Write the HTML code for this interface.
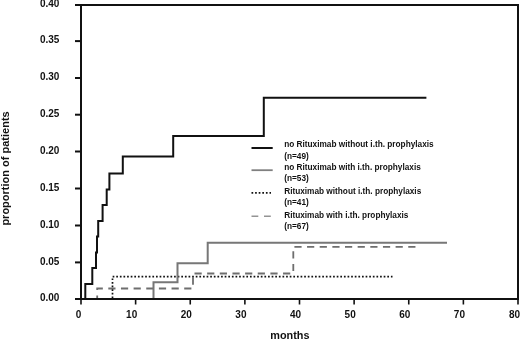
<!DOCTYPE html>
<html><head><meta charset="utf-8"><style>
html,body{margin:0;padding:0;background:#fff;}
body{width:520px;height:339px;overflow:hidden;}
svg{display:block;will-change:opacity;opacity:0.999;}
text{font-family:"Liberation Sans",sans-serif;font-weight:bold;fill:#111;}
</style></head><body>
<svg width="520" height="339" viewBox="0 0 520 339">

<text x="59.4" y="7.30" font-size="10" text-anchor="end">0.40</text>
<text x="59.4" y="43.40" font-size="10" text-anchor="end">0.35</text>
<text x="59.4" y="80.30" font-size="10" text-anchor="end">0.30</text>
<text x="59.4" y="117.00" font-size="10" text-anchor="end">0.25</text>
<text x="59.4" y="153.80" font-size="10" text-anchor="end">0.20</text>
<text x="59.4" y="190.80" font-size="10" text-anchor="end">0.15</text>
<text x="59.4" y="227.80" font-size="10" text-anchor="end">0.10</text>
<text x="59.4" y="264.70" font-size="10" text-anchor="end">0.05</text>
<text x="59.4" y="301.30" font-size="10" text-anchor="end">0.00</text>
<text x="81.40" y="318" font-size="10" text-anchor="end">0</text>
<text x="137.22" y="318" font-size="10" text-anchor="end">10</text>
<text x="191.85" y="318" font-size="10" text-anchor="end">20</text>
<text x="246.47" y="318" font-size="10" text-anchor="end">30</text>
<text x="301.10" y="318" font-size="10" text-anchor="end">40</text>
<text x="355.73" y="318" font-size="10" text-anchor="end">50</text>
<text x="410.35" y="318" font-size="10" text-anchor="end">60</text>
<text x="464.98" y="318" font-size="10" text-anchor="end">70</text>
<text x="520.20" y="318" font-size="10" text-anchor="end">80</text>
<text x="270.3" y="339.2" font-size="10.85">months</text>
<text transform="translate(8.8,225.6) rotate(-90)" font-size="11">proportion of patients</text>
<path d="M81,299 L97.2,299 L97.2,288.5 L193,288.5 L193,273.5 L293.3,273.5 L293.3,246.9 L416,246.9" fill="none" stroke="#6e6e6e" stroke-width="1.8" stroke-dasharray="7.2 5.45" stroke-dashoffset="0.15"/>
<path d="M112.5,299 L112.5,276.6 L392.5,276.6" fill="none" stroke="#111" stroke-width="1.7" stroke-dasharray="1.7 1.914" stroke-dashoffset="-0.85"/>
<path d="M81,299 L153.5,299 L153.5,282.3 L177.5,282.3 L177.5,263.3 L207.7,263.3 L207.7,242.8 L447,242.8" fill="none" stroke="#777" stroke-width="2"/>
<path d="M81,299 L85.3,299 L85.3,284 L92.3,284 L92.3,268 L96,268 L96,252.5 L97,252.5 L97,236.5 L98.2,236.5 L98.2,221 L102.6,221 L102.6,205 L106.7,205 L106.7,189.5 L109.4,189.5 L109.4,173.6 L122.8,173.6 L122.8,156.4 L173.2,156.4 L173.2,136 L263.8,136 L263.8,97.8 L426.4,97.8" fill="none" stroke="#111" stroke-width="2"/>
<rect x="81" y="5" width="437" height="294" fill="none" stroke="#111" stroke-width="2"/>
<line x1="75" y1="5.00" x2="81" y2="5.00" stroke="#111" stroke-width="2"/>
<line x1="75" y1="41.10" x2="81" y2="41.10" stroke="#111" stroke-width="2"/>
<line x1="75" y1="78.00" x2="81" y2="78.00" stroke="#111" stroke-width="2"/>
<line x1="75" y1="114.70" x2="81" y2="114.70" stroke="#111" stroke-width="2"/>
<line x1="75" y1="151.50" x2="81" y2="151.50" stroke="#111" stroke-width="2"/>
<line x1="75" y1="188.50" x2="81" y2="188.50" stroke="#111" stroke-width="2"/>
<line x1="75" y1="225.50" x2="81" y2="225.50" stroke="#111" stroke-width="2"/>
<line x1="75" y1="262.40" x2="81" y2="262.40" stroke="#111" stroke-width="2"/>
<line x1="75" y1="299.00" x2="81" y2="299.00" stroke="#111" stroke-width="2"/>
<line x1="81.00" y1="299" x2="81.00" y2="304.5" stroke="#111" stroke-width="1.6"/>
<line x1="135.62" y1="299" x2="135.62" y2="304.5" stroke="#111" stroke-width="1.6"/>
<line x1="190.25" y1="299" x2="190.25" y2="304.5" stroke="#111" stroke-width="1.6"/>
<line x1="244.88" y1="299" x2="244.88" y2="304.5" stroke="#111" stroke-width="1.6"/>
<line x1="299.50" y1="299" x2="299.50" y2="304.5" stroke="#111" stroke-width="1.6"/>
<line x1="354.12" y1="299" x2="354.12" y2="304.5" stroke="#111" stroke-width="1.6"/>
<line x1="408.75" y1="299" x2="408.75" y2="304.5" stroke="#111" stroke-width="1.6"/>
<line x1="463.38" y1="299" x2="463.38" y2="304.5" stroke="#111" stroke-width="1.6"/>
<line x1="518.00" y1="299" x2="518.00" y2="304.5" stroke="#111" stroke-width="1.6"/>
<line x1="251.5" y1="148" x2="272.7" y2="148" stroke="#111" stroke-width="2"/>
<line x1="251.5" y1="170.2" x2="272.7" y2="170.2" stroke="#808080" stroke-width="1.8"/>
<line x1="251.5" y1="192.8" x2="271" y2="192.8" stroke="#111" stroke-width="1.7" stroke-dasharray="1.7 1.9"/>
<line x1="251.5" y1="216.2" x2="271" y2="216.2" stroke="#949494" stroke-width="1.5" stroke-dasharray="6.8 5.7"/>
<text x="284.2" y="146.7" font-size="8.25">no Rituximab without i.th. prophylaxis</text>
<text x="284.2" y="158.5" font-size="8.25">(n=49)</text>
<text x="284.2" y="169.6" font-size="8.25">no Rituximab with i.th. prophylaxis</text>
<text x="284.2" y="181.4" font-size="8.25">(n=53)</text>
<text x="284.2" y="193.6" font-size="8.25">Rituximab without i.th. prophylaxis</text>
<text x="284.2" y="205.4" font-size="8.25">(n=41)</text>
<text x="284.2" y="217.5" font-size="8.25">Rituximab with i.th. prophylaxis</text>
<text x="284.2" y="229.3" font-size="8.25">(n=67)</text>
</svg>
</body></html>
